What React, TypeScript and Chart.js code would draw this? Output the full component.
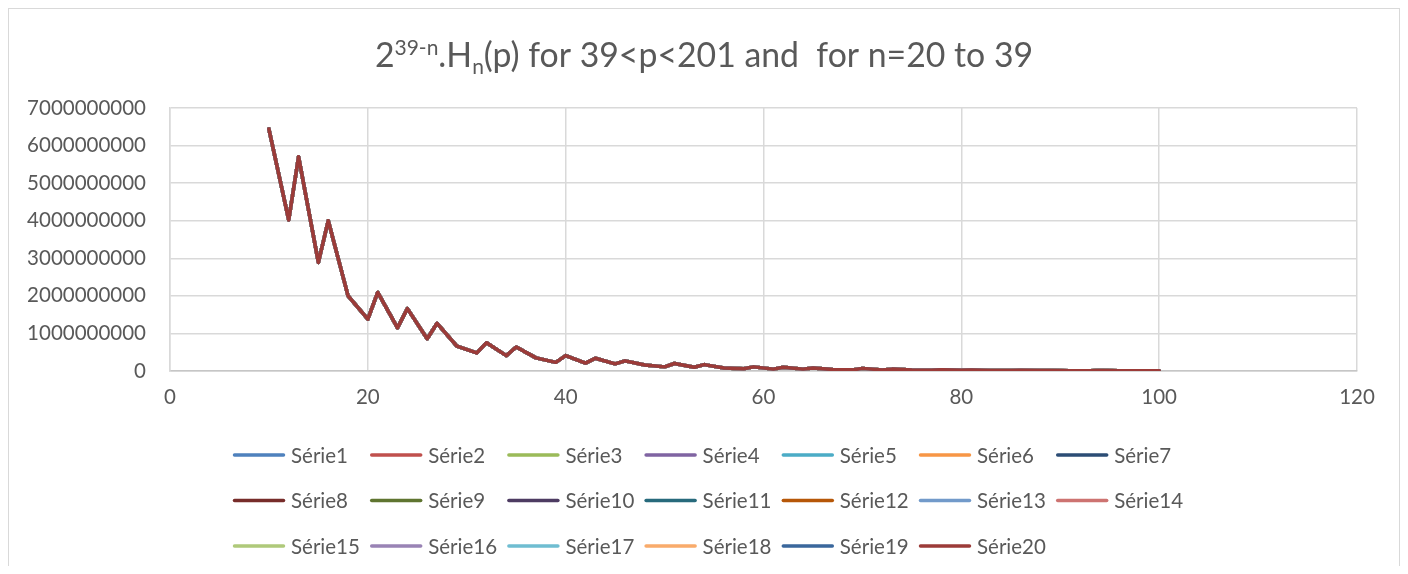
import React, { useEffect, useRef } from "react";
import { Chart, registerables } from "chart.js";

Chart.register(...registerables);

// ---- Title pieces ----
const TITLE_BASE = "2";
const TITLE_SUP = "39-n";
const TITLE_MID = ".H";
const TITLE_SUB = "n";
const TITLE_END = "(p) for 39<p<201 and  for n=20 to 39";

// ---- Series ----
const seriesNames = [
  "Série1", "Série2", "Série3", "Série4", "Série5", "Série6", "Série7",
  "Série8", "Série9", "Série10", "Série11", "Série12", "Série13", "Série14",
  "Série15", "Série16", "Série17", "Série18", "Série19", "Série20",
];

const seriesColors = [
  "#4F81BD", "#C0504D", "#9BBB59", "#8064A2", "#4BACC6", "#F79646", "#2C4D75",
  "#772C2A", "#5F7530", "#4D3B62", "#276A7C", "#B65708", "#729ACA", "#CD7371",
  "#AFC97A", "#9983B5", "#6FBDD1", "#F9AB6B", "#3A679C", "#9C3B38",
];

// ---- Data (all 20 series coincide) ----
const xValues = [
  10, 12, 13, 15, 16, 18, 20, 21, 23, 24, 26, 27, 29, 31, 32, 34, 35, 37, 39, 40,
  42, 43, 45, 46, 48, 50, 51, 53, 54, 56, 58, 59, 61, 62, 64, 65, 67, 69, 70, 72,
  73, 75, 77, 78, 80, 81, 83, 85, 86, 88, 89, 91, 93, 94, 96, 97, 100,
];

const yValues = [
  6440000000, 4020000000, 5700000000, 2890000000, 4000000000, 2000000000,
  1380000000, 2090000000, 1150000000, 1660000000, 860000000, 1270000000,
  660000000, 480000000, 750000000, 410000000, 640000000, 350000000,
  230000000, 410000000, 210000000, 340000000, 190000000, 270000000,
  160000000, 110000000, 200000000, 100000000, 170000000, 80000000,
  60000000, 110000000, 50000000, 100000000, 50000000, 80000000,
  40000000, 30000000, 70000000, 30000000, 50000000, 25000000,
  20000000, 35000000, 18000000, 28000000, 15000000, 12000000,
  20000000, 10000000, 16000000, 8000000, 7000000, 11000000,
  6000000, 9000000, 5000000,
];

// ---- Axis ticks ----
const xMin = 0;
const xMax = 120;
const xStep = 20;
const yMin = 0;
const yMax = 7000000000;
const yStep = 1000000000;

const FONT = "Lato";
const TEXT_COLOR = "#595959";

const titlePlugin = {
  id: "excelTitle",
  afterDraw(chart: any) {
    const ctx = chart.ctx as CanvasRenderingContext2D;
    const big = `33.8px ${FONT}`;
    const small = `21px ${FONT}`;
    const parts: any[] = [
      { t: TITLE_BASE, f: big, dy: 0 },
      { t: TITLE_SUP, f: small, dy: -12.5 },
      { t: TITLE_MID, f: big, dy: 0 },
      { t: TITLE_SUB, f: small, dy: 7 },
      { t: TITLE_END, f: big, dy: 0 },
    ];
    ctx.save();
    ctx.fillStyle = TEXT_COLOR;
    ctx.textBaseline = "alphabetic";
    ctx.textAlign = "left";
    let total = 0;
    parts.forEach((p) => {
      ctx.font = p.f;
      p.w = ctx.measureText(p.t).width;
      total += p.w;
    });
    let x = chart.width / 2 - total / 2;
    const y = 58;
    parts.forEach((p) => {
      ctx.font = p.f;
      ctx.fillText(p.t, x, y + p.dy);
      x += p.w;
    });
    ctx.restore();
  },
};

const legendPlugin = {
  id: "excelLegend",
  afterDraw(chart: any) {
    const ctx = chart.ctx as CanvasRenderingContext2D;
    const perRow = 7;
    const colW = 137.2;
    const lineW = 52;
    const rowH = 45.5;
    const startX = chart.width / 2 - 471;
    const startY = 446;
    ctx.save();
    ctx.font = `20.5px ${FONT}`;
    ctx.textBaseline = "middle";
    ctx.textAlign = "left";
    chart.data.datasets.forEach((ds: any, i: number) => {
      const r = Math.floor(i / perRow);
      const c = i % perRow;
      const x = startX + c * colW;
      const y = startY + r * rowH;
      ctx.strokeStyle = ds.borderColor;
      ctx.lineWidth = 3.5;
      ctx.lineCap = "round";
      ctx.beginPath();
      ctx.moveTo(x + 1.5, y);
      ctx.lineTo(x + lineW - 1.5, y);
      ctx.stroke();
      ctx.fillStyle = TEXT_COLOR;
      ctx.fillText(ds.label, x + lineW + 6, y + 1);
    });
    ctx.restore();
  },
};

export default function App() {
  const canvasRef = useRef<HTMLCanvasElement | null>(null);

  useEffect(() => {
    if (!canvasRef.current) return;
    const points = xValues.map((x, i) => ({ x, y: yValues[i] }));
    const chart = new Chart(canvasRef.current, {
      type: "scatter",
      data: {
        datasets: seriesNames.map((name, i) => ({
          label: name,
          data: points,
          showLine: true,
          borderColor: seriesColors[i],
          backgroundColor: seriesColors[i],
          borderWidth: 3.5,
          borderJoinStyle: "round",
          borderCapStyle: "round",
          pointRadius: 0,
          pointHoverRadius: 0,
          order: seriesNames.length - 1 - i,
        })),
      },
      options: {
        responsive: false,
        animation: false,
        events: [],
        layout: { padding: { top: 99, right: 42, bottom: 155, left: 0 } },
        plugins: {
          legend: { display: false },
          title: { display: false },
          tooltip: { enabled: false },
        },
        scales: {
          x: {
            type: "linear",
            min: xMin,
            max: xMax,
            ticks: {
              stepSize: xStep,
              color: TEXT_COLOR,
              font: { family: FONT, size: 20.5 },
              padding: 14,
              maxRotation: 0,
            },
            grid: { color: "#D9D9D9", lineWidth: 1.5, drawTicks: false },
            border: { color: "#C6C6C6", width: 1.5 },
            afterFit: (scale: any) => {
              scale.height = 40;
            },
          },
          y: {
            type: "linear",
            min: yMin,
            max: yMax,
            ticks: {
              stepSize: yStep,
              color: TEXT_COLOR,
              font: { family: FONT, size: 20.5 },
              padding: 24,
              callback: (v: any) => String(Math.round(Number(v))),
            },
            grid: { color: "#D9D9D9", lineWidth: 1.5, drawTicks: false },
            border: { color: "#D9D9D9", width: 1.5 },
            afterFit: (scale: any) => {
              scale.width = 161;
            },
          },
        },
      },
      plugins: [titlePlugin, legendPlugin],
    } as any);
    return () => chart.destroy();
  }, []);

  return (
    <div
      style={{
        width: 1390,
        height: 557,
        borderTop: "1.5px solid #D9D9D9",
        borderLeft: "1.5px solid #D9D9D9",
        borderRight: "1.5px solid #D9D9D9",
        overflow: "hidden",
      }}
    >
      <canvas ref={canvasRef} width={1390} height={557} style={{ display: "block" }} />
    </div>
  );
}
